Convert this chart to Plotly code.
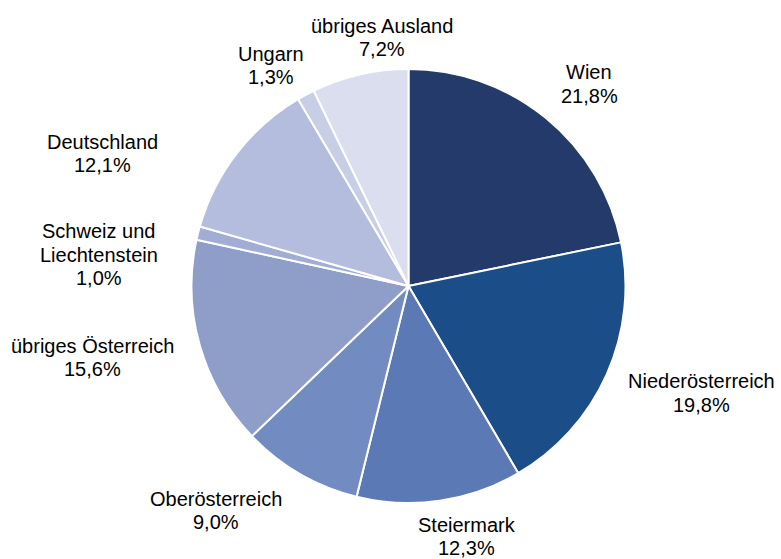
import math
import plotly.graph_objects as go

# ---- data ----
regions = ["Wien", "Niederösterreich", "Steiermark", "Oberösterreich",
           "übriges Österreich", "Schweiz und Liechtenstein", "Deutschland",
           "Ungarn", "übriges Ausland"]
label_lines = [["Wien"], ["Niederösterreich"], ["Steiermark"], ["Oberösterreich"],
               ["übriges Österreich"], ["Schweiz und", "Liechtenstein"], ["Deutschland"],
               ["Ungarn"], ["übriges Ausland"]]
shares = [21.8, 19.8, 12.3, 9.0, 15.6, 1.0, 12.1, 1.3, 7.2]

# ---- style / layout ----
colors = ["#233a6b", "#1b4d89", "#5b79b5", "#728cc2", "#8e9ec9",
          "#a1add4", "#b4bddd", "#c8cee6", "#dadeef"]
W, H = 781, 559
CX, CY, R = 408.5, 286.0, 217.0
FONT_SIZE = 20
LINE_H = 23.5
GAP = 22
# manual label nudges in pixels (labels were hand-placed in the original)
nudges = [(12, 2), (8, 0), (17, -10), (-41, -3), (-7, 0), (-21, 36), (-73, 28), (-9, 11), (43, 8)]

# approximate Arial advance widths (em)
_w = {'i': .222, 'l': .222, 'j': .222, 't': .278, 'f': .278, 'r': .333, ' ': .278, ',': .278,
      'm': .833, 'w': .722, 'W': .944, 'D': .722, 'N': .722, 'U': .722, 'Ö': .778, 'S': .667,
      'A': .667, 'L': .556, 'c': .5, 's': .5, 'k': .5, 'z': .5, '%': .889}


def text_w(s):
    return sum(_w.get(ch, .556) for ch in s) * FONT_SIZE


fig = go.Figure(go.Pie(
    labels=regions, values=shares, sort=False, direction="clockwise", rotation=0,
    marker=dict(colors=colors, line=dict(color="white", width=2)),
    textinfo="none", hoverinfo="label+percent", showlegend=False,
    domain=dict(x=[(CX - R) / W, (CX + R) / W], y=[1 - (CY + R) / H, 1 - (CY - R) / H]),
))

total = sum(shares)
cum = 0.0
annotations = []
for i, (lines, v) in enumerate(zip(label_lines, shares)):
    mid = (cum + v / 2) / total * 2 * math.pi
    cum += v
    ux, uy = math.sin(mid), -math.cos(mid)
    pct = f"{v:.1f}%".replace(".", ",")
    all_lines = lines + [pct]
    w = max(text_w(s) for s in all_lines)
    h = len(all_lines) * 24
    bx = CX + ux * (R + GAP) + ux * w / 2 + nudges[i][0]
    by = CY + uy * (R + GAP) + uy * h / 2 + nudges[i][1]
    n = len(all_lines)
    for k, s in enumerate(all_lines):
        ly = by + (k - (n - 1) / 2) * LINE_H
        annotations.append(dict(
            x=bx / W, y=1 - ly / H, xref="paper", yref="paper", text=s,
            showarrow=False, xanchor="center", yanchor="middle",
            font=dict(family="Liberation Sans, Arial, sans-serif", size=FONT_SIZE, color="#000000"),
        ))

fig.update_layout(
    width=W, height=H, margin=dict(l=0, r=0, t=0, b=0),
    paper_bgcolor="white", plot_bgcolor="white",
    annotations=annotations,
)

fig.write_html("out.html", config={"displayModeBar": False},
               post_script="document.body.style.margin='0';document.body.style.overflow='hidden';")
